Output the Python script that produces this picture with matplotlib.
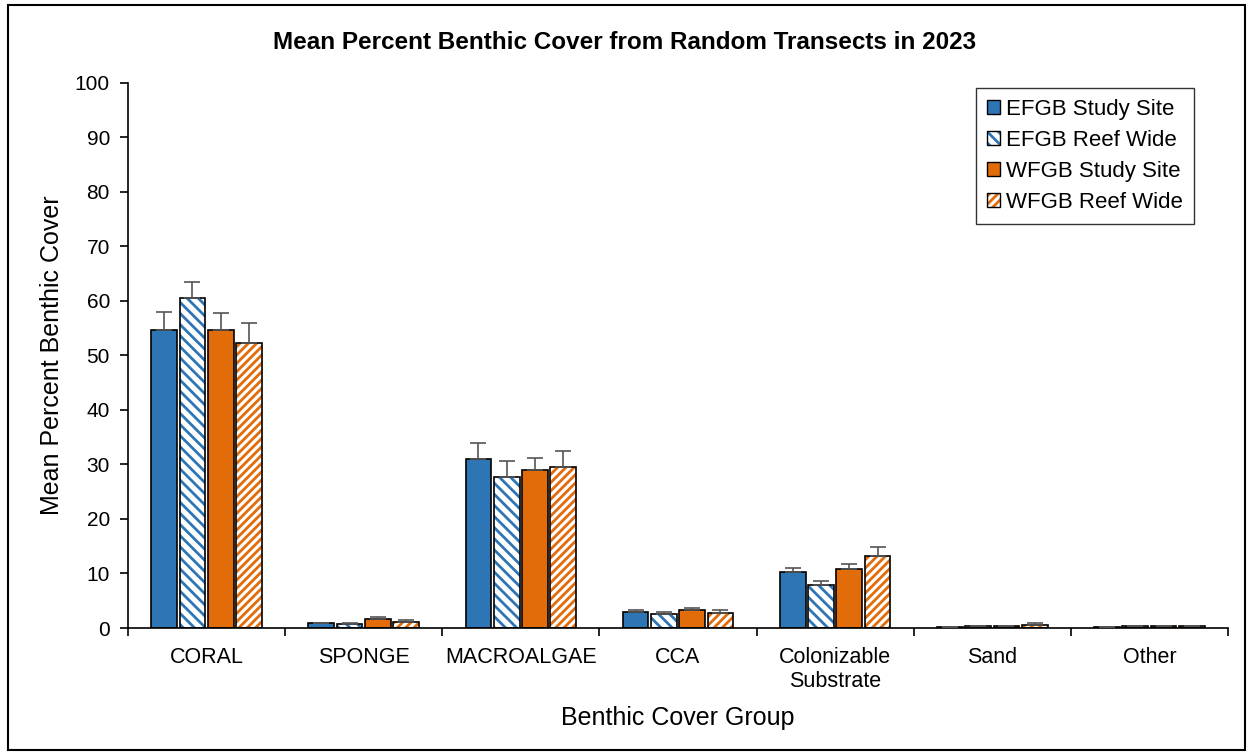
import numpy as np
import matplotlib
matplotlib.use("Agg")
import matplotlib.pyplot as plt
from matplotlib.patches import Patch, Rectangle

plt.rcParams['font.family'] = ['Liberation Sans', 'DejaVu Sans']
plt.rcParams['hatch.linewidth'] = 2.0

categories = ['CORAL', 'SPONGE', 'MACROALGAE', 'CCA', 'Colonizable\nSubstrate', 'Sand', 'Other']
series = ['EFGB Study Site', 'EFGB Reef Wide', 'WFGB Study Site', 'WFGB Reef Wide']

efgb_ss = [54.7, 0.9, 31.0, 2.9, 10.3, 0.2, 0.1]
efgb_ss_err = [3.3, 0.1, 3.0, 0.4, 0.7, 0.05, 0.05]
efgb_rw = [60.5, 0.8, 27.7, 2.5, 7.9, 0.3, 0.3]
efgb_rw_err = [3.0, 0.2, 2.9, 0.4, 0.7, 0.05, 0.05]
wfgb_ss = [54.7, 1.6, 29.0, 3.3, 10.9, 0.3, 0.3]
wfgb_ss_err = [3.1, 0.4, 2.2, 0.3, 0.8, 0.05, 0.05]
wfgb_rw = [52.3, 1.1, 29.5, 2.7, 13.3, 0.6, 0.4]
wfgb_rw_err = [3.7, 0.3, 3.0, 0.6, 1.5, 0.4, 0.05]

blue = '#2E75B6'
orange = '#E36C0A'

values = [efgb_ss, efgb_rw, wfgb_ss, wfgb_rw]
errors = [efgb_ss_err, efgb_rw_err, wfgb_ss_err, wfgb_rw_err]
colors = [blue, blue, orange, orange]
hatches = [None, '\\\\\\', None, '////']

fig = plt.figure(figsize=(12.5, 7.53), dpi=100)
ax = fig.add_axes([0.1024, 0.166, 0.88, 0.7238])

x = np.arange(len(categories))
step = 0.18
width = 0.163
handles = []
for i in range(4):
    pos = x + (i - 1.5) * step
    v = np.array(values[i])
    e = np.array(errors[i])
    if hatches[i] is None:
        ax.bar(pos, v, width, color=colors[i], edgecolor='black', linewidth=1.2, zorder=2)
        h = Patch(facecolor=colors[i], edgecolor='black', linewidth=1.0)
    else:
        ax.bar(pos, v, width, color='white', edgecolor=colors[i], hatch=hatches[i],
               linewidth=0, zorder=2)
        ax.bar(pos, v, width, fill=False, edgecolor='black', linewidth=1.2, zorder=3)
        h = (Patch(facecolor='white', edgecolor=colors[i], hatch=hatches[i], linewidth=0),
             Patch(fill=False, edgecolor='black', linewidth=1.0))
    ax.errorbar(pos, v, yerr=[np.zeros_like(e), e], fmt='none', ecolor='#555555',
                elinewidth=1.2, capsize=6, capthick=1.2, zorder=4)
    handles.append(h)

ax.set_xlim(-0.5, len(categories) - 0.5)
ax.set_ylim(0, 100)
ax.set_yticks(np.arange(0, 101, 10))
ax.set_xticks(x)
ax.set_xticklabels(categories, fontsize=15.5, linespacing=1.15)
ax.set_xticks(np.arange(-0.5, len(categories), 1), minor=True)
ax.tick_params(axis='x', which='major', length=0, pad=14)
ax.tick_params(axis='x', which='minor', length=6, width=1.2, direction='out')
ax.tick_params(axis='y', labelsize=15, length=6, width=1.2, direction='out', pad=7)
for s in ['top', 'right']:
    ax.spines[s].set_visible(False)
for s in ['left', 'bottom']:
    ax.spines[s].set_linewidth(1.2)

ax.set_ylabel('Mean Percent Benthic Cover', fontsize=18, labelpad=8)
ax.set_xlabel('Benthic Cover Group', fontsize=18, labelpad=10)
fig.text(0.5, 0.944, 'Mean Percent Benthic Cover from Random Transects in 2023',
         ha='center', va='center', fontsize=17.5, fontweight='bold')

leg = ax.legend(handles, series, loc='upper right', bbox_to_anchor=(0.979, 1.012),
                fontsize=16, frameon=True, fancybox=False, edgecolor='black',
                handlelength=0.6, handleheight=0.6, handletextpad=0.25,
                labelspacing=0.45, borderpad=0.5)
leg.get_frame().set_linewidth(1.0)

fig.patches.append(Rectangle((0.006, 0.004), 0.99, 0.989, transform=fig.transFigure,
                             fill=False, edgecolor='black', linewidth=1.5))

fig.savefig('out.png', dpi=100)
